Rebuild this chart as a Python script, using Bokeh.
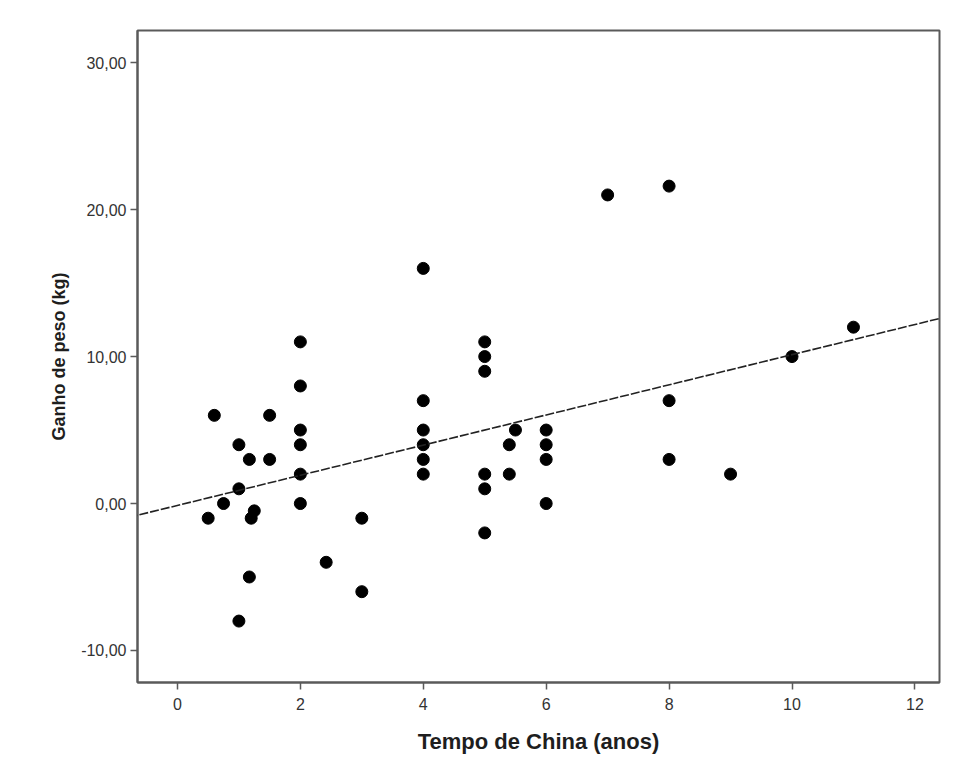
from bokeh.plotting import figure
from bokeh.models import Range1d, FixedTicker, Slope, ColumnDataSource
from bokeh.embed import file_html
from bokeh.resources import INLINE

# Data
tempo_china = [0.5, 0.6, 0.75, 1, 1, 1, 1.17, 1.17, 1.2, 1.25, 1.5, 1.5,
               2, 2, 2, 2, 2, 2, 2.42, 3, 3,
               4, 4, 4, 4, 4, 4, 5, 5, 5, 5, 5, 5,
               5.4, 5.4, 5.5, 6, 6, 6, 6, 7, 8, 8, 8, 9, 10, 11]
ganho_peso = [-1, 6, 0, 4, 1, -8, 3, -5, -1, -0.5, 6, 3,
              11, 8, 5, 4, 2, 0, -4, -1, -6,
              16, 7, 5, 4, 3, 2, 11, 10, 9, 2, 1, -2,
              4, 2, 5, 5, 4, 3, 0, 21, 21.6, 7, 3, 2, 10, 12]

fit_intercept = -0.13
fit_slope = 1.026

x_ticks = [0, 2, 4, 6, 8, 10, 12]
y_ticks = [-10, 0, 10, 20, 30]
y_tick_labels = ["-10,00", "0,00", "10,00", "20,00", "30,00"]

x_title = "Tempo de China (anos)"
y_title = "Ganho de peso (kg)"

FONT = "Liberation Sans"

p = figure(width=941, height=757,
           x_range=Range1d(-0.65, 12.40), y_range=Range1d(-12.18, 32.19),
           output_backend="svg", toolbar_location=None,
           min_border_left=137, min_border_right=2,
           min_border_top=30, min_border_bottom=75)

p.background_fill_color = "white"
p.border_fill_color = "white"
p.outline_line_color = "#5a5a5a"
p.outline_line_width = 2
p.xgrid.visible = False
p.ygrid.visible = False

src = ColumnDataSource(data=dict(x=tempo_china, y=ganho_peso))
p.scatter("x", "y", source=src, size=12, color="black", line_color="black")

fit = Slope(gradient=fit_slope, y_intercept=fit_intercept,
            line_color="#222222", line_width=1.6, line_dash="9 2")
p.add_layout(fit)

for ax in (p.xaxis[0], p.yaxis[0]):
    ax.axis_line_color = "#5a5a5a"
    ax.axis_line_width = 2
    ax.major_tick_line_color = "#5a5a5a"
    ax.major_tick_line_width = 1.5
    ax.major_tick_in = 0
    ax.major_tick_out = 7
    ax.minor_tick_line_color = None
    ax.major_label_text_font = FONT
    ax.major_label_text_font_size = "16px"
    ax.major_label_text_color = "#333333"
    ax.axis_label_text_font = FONT
    ax.axis_label_text_font_style = "bold"
    ax.axis_label_text_color = "#1e1e1e"

p.xaxis.ticker = FixedTicker(ticks=x_ticks)
p.yaxis.ticker = FixedTicker(ticks=y_ticks)
p.yaxis.major_label_overrides = {t: l for t, l in zip(y_ticks, y_tick_labels)}
p.xaxis.major_label_standoff = 8
p.yaxis.major_label_standoff = 4

p.xaxis.axis_label = x_title
p.yaxis.axis_label = y_title
p.xaxis.axis_label_text_font_size = "22px"
p.yaxis.axis_label_text_font_size = "18px"
p.xaxis.axis_label_standoff = 16
p.yaxis.axis_label_standoff = 9

open("out.html", "w").write(file_html(p, INLINE))
